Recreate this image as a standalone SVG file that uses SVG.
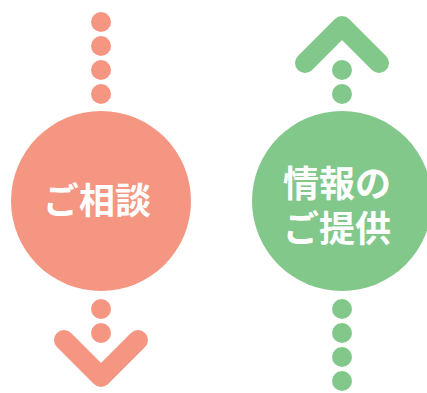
<svg xmlns="http://www.w3.org/2000/svg" width="427" height="393" viewBox="0 0 427 393">
<style>
.red{fill:#F59682}
.grn{fill:#82C88B}
.chev{fill:none;stroke-width:20;stroke-linecap:round;stroke-linejoin:round}
.t{font-family:"Noto Sans CJK JP","Noto Sans CJK SC",sans-serif;font-weight:bold;font-size:36px;fill:#fff;text-anchor:middle}
</style>
<rect width="427" height="393" fill="#fff"/>
<g id="connectors">
  <g class="red">
    <circle cx="101" cy="22" r="10"/>
    <circle cx="101" cy="46" r="10"/>
    <circle cx="101" cy="70" r="10"/>
    <circle cx="101" cy="94" r="10"/>
    <circle cx="101" cy="309" r="10"/>
    <circle cx="101" cy="333" r="10"/>
  </g>
  <polyline class="chev" stroke="#F59682" points="64,340 101,377 138,340"/>
  <g class="grn">
    <circle cx="342" cy="70" r="10"/>
    <circle cx="342" cy="94" r="10"/>
    <circle cx="342" cy="309" r="10"/>
    <circle cx="342" cy="333" r="10"/>
    <circle cx="342" cy="357" r="10"/>
    <circle cx="342" cy="381" r="10"/>
  </g>
  <polyline class="chev" stroke="#82C88B" points="305,63 342,26 379,63"/>
</g>
<g id="node-consult">
  <circle class="red" cx="101" cy="201" r="90"/>
  <text class="t" x="97" y="214">ご相談</text>
</g>
<g id="node-info">
  <circle class="grn" cx="342" cy="201" r="90"/>
  <text class="t"><tspan x="337" y="197">情報の</tspan><tspan x="337" y="242">ご提供</tspan></text>
</g>
</svg>
